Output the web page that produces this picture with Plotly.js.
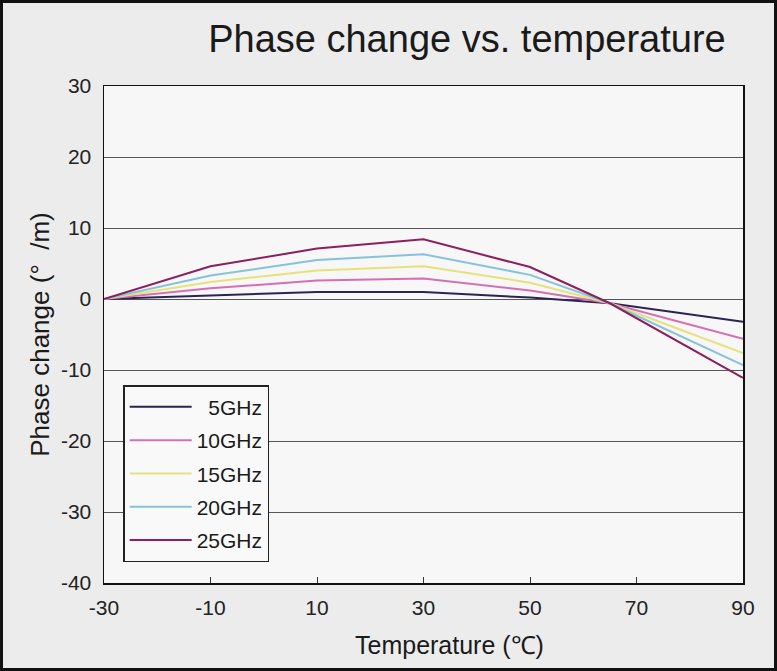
<!DOCTYPE html>
<html>
<head>
<meta charset="utf-8">
<script src="https://cdn.plot.ly/plotly-3.0.1.min.js"></script>
<style>
  html, body { margin: 0; padding: 0; background: #ececec; }
  #wrap { position: relative; width: 777px; height: 671px; }
  #chart { position: absolute; left: 0; top: 0; width: 777px; height: 671px; }
  #frame { position: absolute; left: 0; top: 0; width: 777px; height: 671px; box-sizing: border-box;
           border: 3px solid #111; pointer-events: none; }
</style>
</head>
<body>
<div id="wrap">
  <div id="chart"></div>
  <div id="frame"></div>
</div>
<script>
// Temperatures (°C) at which the curves are defined
const temperature = [-30, -10, 10, 30, 50, 65, 90];

// Phase change (°/m) per frequency
const phase5GHz  = [0, 0.5, 1.0, 1.0, 0.2, -0.6, -3.2];
const phase10GHz = [0, 1.5, 2.6, 2.9, 1.2, -0.6, -5.6];
const phase15GHz = [0, 2.4, 4.0, 4.6, 2.3, -0.6, -7.6];
const phase20GHz = [0, 3.3, 5.5, 6.3, 3.4, -0.6, -9.3];
const phase25GHz = [0, 4.6, 7.1, 8.4, 4.5, -0.6, -11.1];

const seriesNames = ["5GHz", "10GHz", "15GHz", "20GHz", "25GHz"];
const seriesValues = [phase5GHz, phase10GHz, phase15GHz, phase20GHz, phase25GHz];
const seriesColors = ["#2b2452", "#d56fb4", "#e6e27a", "#86c3da", "#8c1f5e"];
const legendPad = ["\u00A0\u00A0", "", "", "", ""];

const xTicks = [-30, -10, 10, 30, 50, 70, 90];
const yTicks = [-40, -30, -20, -10, 0, 10, 20, 30];

const FONT = "'Liberation Sans', Arial, Helvetica, sans-serif";

const traces = seriesNames.map((name, i) => ({
  type: "scatter",
  mode: "lines",
  x: temperature,
  y: seriesValues[i],
  name: legendPad[i] + name,
  legendgroup: "g" + i,
  line: { color: seriesColors[i], width: 2 },
  hoverinfo: "x+y+name"
}));

const layout = {
  width: 777,
  height: 671,
  paper_bgcolor: "#ececec",
  plot_bgcolor: "#f7f7f7",
  margin: { l: 104, r: 34, t: 86, b: 88 },
  font: { family: FONT, color: "#222", size: 21 },
  title: {
    text: "Phase change vs. temperature",
    font: { family: FONT, size: 38, color: "#1a1a1a" },
    x: 0.568, xref: "paper", xanchor: "center",
    y: 0.943, yref: "container", yanchor: "middle"
  },
  xaxis: {
    range: [-30, 90],
    tickvals: xTicks,
    ticktext: xTicks.map(String),
    ticks: "inside",
    ticklen: 6,
    tickcolor: "#333",
    showgrid: false,
    zeroline: false,
    showline: true,
    linecolor: "#111",
    linewidth: 1.5,
    mirror: true,
    ticklabelstandoff: 5,
    tickfont: { family: FONT, size: 21, color: "#222" }
  },
  yaxis: {
    range: [-40, 30],
    tickvals: yTicks,
    ticktext: yTicks.map(String),
    ticks: "",
    showgrid: true,
    gridcolor: "#555",
    gridwidth: 1,
    zeroline: false,
    showline: true,
    linecolor: "#111",
    linewidth: 1.5,
    mirror: true,
    ticklabelstandoff: 7,
    tickfont: { family: FONT, size: 21, color: "#222" },
    title: { text: "Phase change (°\u00A0\u00A0/m)", font: { family: FONT, size: 26, color: "#1a1a1a" }, standoff: 4 }
  },
  annotations: [{
    text: "Temperature (℃)",
    xref: "paper", yref: "paper",
    x: (449 - 104) / 639, y: -62 / 497,
    xanchor: "center", yanchor: "middle",
    showarrow: false,
    font: { family: FONT, size: 25, color: "#1a1a1a" }
  }],
  showlegend: true,
  legend: {
    x: 0.03, xanchor: "left",
    y: 0.398, yanchor: "top",
    bgcolor: "#f9f9f9",
    bordercolor: "#222",
    borderwidth: 1.5,
    font: { family: FONT, size: 21, color: "#1a1a1a" },
    itemwidth: 62,
    tracegroupgap: 3,
    traceorder: "grouped"
  }
};

Plotly.newPlot("chart", traces, layout, { displayModeBar: false, staticPlot: true });
</script>
</body>
</html>
